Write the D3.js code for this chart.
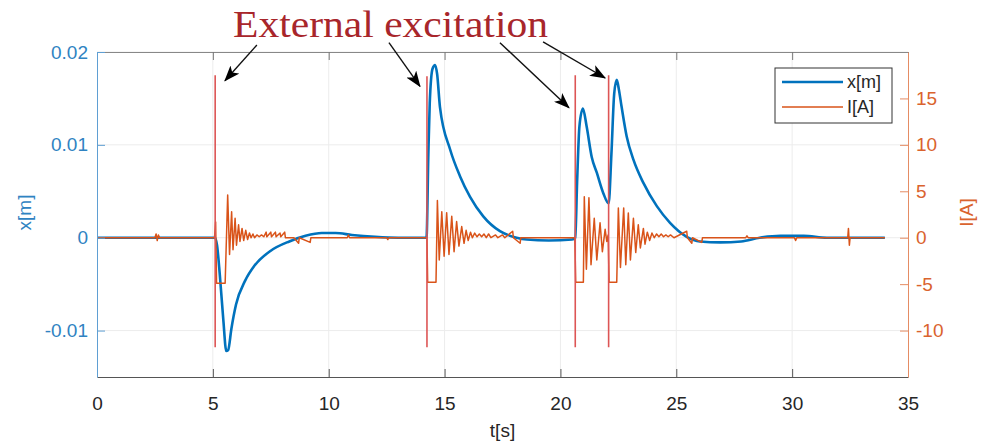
<!DOCTYPE html>
<html>
<head>
<meta charset="utf-8">
<script src="https://cdn.jsdelivr.net/npm/d3@7"></script>
<style>
  html, body { margin: 0; padding: 0; background: #ffffff; }
  svg { display: block; }
  text { font-family: "Liberation Sans", Arial, Helvetica, sans-serif; }
</style>
</head>
<body>
<svg id="chart" width="982" height="444"></svg>
<script>
// ---------------- data ----------------
const xTicks = [0, 5, 10, 15, 20, 25, 30, 35];
const leftTicks = [-0.01, 0, 0.01, 0.02];
const rightTicks = [-10, -5, 0, 5, 10, 15];

// displacement x[m]
const dispTime = [0, 5.1, 5.18, 5.3, 5.45, 5.58, 5.66, 5.8, 6.0, 6.4, 6.8, 7.5, 8.3, 9.0, 9.7, 10.3, 11.0, 12.0, 13.0,
  14.22, 14.3, 14.36, 14.48, 14.59, 14.68, 14.8, 15.24, 15.67, 16.1, 16.67, 17.39, 18.11, 18.55, 19.5, 20.5,
  20.64, 20.72, 20.82, 20.97, 21.13, 21.35, 21.57, 21.85, 22.08,
  22.2, 22.32, 22.43, 22.52, 22.64, 22.86, 23.15, 23.58, 24.16, 24.73, 25.45, 26.02, 26.9, 27.8, 28.6, 29.5, 30.5, 31.5, 34.0];
const dispValues = [0, 0, -0.0008, -0.004, -0.0088, -0.0122, -0.0121, -0.0098, -0.0072, -0.0046, -0.0030, -0.0014, -0.0004, 0.0002, 0.0005, 0.0005, 0.0003, 0.0001, 0,
  0, 0.009, 0.0145, 0.0182, 0.0186, 0.0176, 0.0141, 0.0095, 0.0066, 0.0044, 0.0023, 0.0007, 0, -0.0002, -0.0003, -0.0002,
  0, 0.006, 0.012, 0.0139, 0.012, 0.0087, 0.007, 0.0048, 0.0037,
  0.009, 0.0155, 0.017, 0.016, 0.0141, 0.0109, 0.0084, 0.0059, 0.0034, 0.0016, 0.0001, -0.0004, -0.0005, -0.0004, 0, 0.0002, 0.0002, 0, 0];

// current I[A]
const currTime = [0, 2.5, 2.55, 2.6, 2.65, 2.7,
  5.07, 5.12, 5.16, 5.53, 5.64, 5.72, 5.81, 5.87, 5.96, 6.02, 6.11, 6.17, 6.26, 6.33, 6.42, 6.5, 6.58, 6.65, 6.73, 6.8, 6.9, 7.0, 7.1, 7.2,
  7.3, 7.33, 7.5, 7.53, 7.7, 7.73, 7.9, 7.93, 8.1, 8.13, 8.5, 8.7, 8.73, 9.2, 9.23, 10.8, 10.85, 10.9, 12.5, 12.55, 12.6,
  14.24, 14.27, 14.63, 14.69, 14.77, 14.88, 14.98, 15.09, 15.19, 15.31, 15.41, 15.52, 15.62, 15.74, 15.84, 15.93, 16.02, 16.12, 16.2,
  16.3, 16.4, 16.5, 16.6, 16.7, 16.8, 16.9, 17.0, 17.2, 17.3, 17.5, 17.6, 17.94, 17.97, 18.26, 18.29,
  20.62, 20.66, 20.99, 21.03, 21.12, 21.23, 21.32, 21.46, 21.57, 21.71, 21.81, 21.93, 22.0, 22.06,
  22.1, 22.43, 22.5, 22.59, 22.73, 22.82, 22.93, 23.02, 23.15, 23.25, 23.36, 23.45, 23.58, 23.65, 23.75, 23.85, 23.95, 24.05,
  24.15, 24.25, 24.35, 24.45, 24.55, 24.65, 24.75, 24.9, 25.45, 25.48, 25.67, 25.7, 26.1, 26.13,
  28.0, 28.05, 28.1, 30.1, 30.15, 30.2, 32.4, 32.43, 32.47, 32.5, 34.0];
const currValues = [0, 0, 0.4, -0.3, 0.3, 0,
  0, 1.7, -4.9, -4.9, 4.6, -1.8, 2.8, -1.3, 2.1, -0.8, 1.4, -0.4, 1.0, -0.3, 0.8, -0.2, 0.5, 0, 0.4, 0, 0.3, 0.1, 0.3, 0.1,
  0.6, 0.1, 0.6, 0.1, 0.6, 0.1, 0.5, 0.1, 0.6, 0, 0, -0.6, 0, -0.5, 0, 0, 0.3, 0, 0, -0.2, 0,
  0, -4.8, -4.8, 4.0, -2.4, 2.8, -2.0, 2.7, -1.8, 2.3, -1.5, 1.75, -0.9, 1.2, -0.6, 0.8, -0.3, 0.6, 0,
  0.5, 0.1, 0.4, 0.1, 0.4, 0, 0.4, 0, 0.3, 0, 0.3, 0, 0.7, 0, -0.6, 0,
  0, -4.8, -4.8, 4.4, -3.4, 4.3, -2.9, 2.1, -2.4, 1.6, -1.5, 0.9, -0.4, 0.3,
  -4.8, -4.8, 3.2, -3.2, 3.2, -2.9, 2.65, -2.4, 2.1, -1.6, 1.4, -1.1, 1.0, -0.7, 0.6, -0.3, 0.5, 0,
  0.4, 0.1, 0.4, 0.1, 0.3, 0.1, 0.3, 0, 0.7, 0, -0.6, 0, -0.5, 0,
  0, 0.2, 0, 0, -0.3, 0, 0, 1.0, -0.8, 0, 0];

// excitation spikes in the current
const spikeTime = [5.1, 14.24, 20.64, 22.08];
const spikeHigh = [17.5, 17.4, 17.5, 17.5];
const spikeLow = [-11.8, -11.8, -11.8, -11.8];

// annotation arrows (time, current units)
const arrowFromT = [6.9, 12.6, 17.39, 19.25];
const arrowFromI = [20.75, 21.0, 21.0, 21.1];
const arrowToT = [5.52, 13.94, 20.37, 21.93];
const arrowToI = [16.9, 16.3, 14.0, 17.2];

const seriesNames = ["x[m]", "I[A]"];
const annotationText = "External excitation";

// ---------------- chart ----------------
const blue = "#0072BD", orange = "#D95319";
const svg = d3.select("#chart");
const L = 97, R = 908, T = 52, B = 377;

const x = d3.scaleLinear().domain([0, 35]).range([L, R]);
const yL = d3.scaleLinear().domain([-0.015, 0.02]).range([B, T]);
const yR = d3.scaleLinear().domain([-15, 20]).range([B, T]);

svg.append("defs").append("clipPath").attr("id", "clip")
  .append("rect").attr("x", L).attr("y", T).attr("width", R - L).attr("height", B - T);

// grid
const grid = svg.append("g");
grid.selectAll("line.vx").data(xTicks.slice(1, -1)).join("line")
  .attr("x1", d => x(d)).attr("x2", d => x(d)).attr("y1", T).attr("y2", B)
  .attr("stroke", "#ececec").attr("stroke-width", 1);
grid.selectAll("line.hy").data(leftTicks).join("line")
  .attr("x1", L).attr("x2", R).attr("y1", d => yL(d)).attr("y2", d => yL(d))
  .attr("stroke", "#ececec").attr("stroke-width", 1);

const plot = svg.append("g").attr("clip-path", "url(#clip)");

const dispData = dispTime.map((t, i) => [t, dispValues[i]]);
const currData = currTime.map((t, i) => [t, currValues[i]]);

plot.append("path").datum(dispData)
  .attr("fill", "none").attr("stroke", blue).attr("stroke-width", 2.6)
  .attr("stroke-linejoin", "round")
  .attr("d", d3.line().x(d => x(d[0])).y(d => yL(d[1])).curve(d3.curveMonotoneX));

plot.append("path").datum(currData)
  .attr("fill", "none").attr("stroke", orange).attr("stroke-width", 1.5)
  .attr("stroke-linejoin", "round")
  .attr("d", d3.line().x(d => x(d[0])).y(d => yR(d[1])));

plot.selectAll("line.spike").data(spikeTime).join("line")
  .attr("x1", d => x(d)).attr("x2", d => x(d))
  .attr("y1", (d, i) => yR(spikeHigh[i])).attr("y2", (d, i) => yR(spikeLow[i]))
  .attr("stroke", "#dd5555").attr("stroke-width", 1.6);

// axes
const fmt = d => String(d);
const axB = svg.append("g").attr("transform", `translate(0,${B})`)
  .call(d3.axisBottom(x).tickValues(xTicks).tickSize(-8).tickSizeOuter(0).tickPadding(20).tickFormat(fmt));
axB.select(".domain").attr("stroke", "#555");
axB.selectAll(".tick line").attr("stroke", "#555");
axB.selectAll("text").attr("fill", "#262626").style("font-size", "19px");

const axT = svg.append("g").attr("transform", `translate(0,${T})`)
  .call(d3.axisTop(x).tickValues(xTicks).tickSize(-8).tickSizeOuter(0).tickFormat(""));
axT.select(".domain").attr("stroke", "#888");
axT.selectAll(".tick line").attr("stroke", "#777");

const axL = svg.append("g").attr("transform", `translate(${L},0)`)
  .call(d3.axisLeft(yL).tickValues(leftTicks).tickSize(-8).tickSizeOuter(0).tickPadding(9).tickFormat(fmt));
axL.select(".domain").attr("stroke", "#5f9fd3");
axL.selectAll(".tick line").attr("stroke", "#5f9fd3");
axL.selectAll("text").attr("fill", "#2f83c2").style("font-size", "19px");

const axR = svg.append("g").attr("transform", `translate(${R},0)`)
  .call(d3.axisRight(yR).tickValues(rightTicks).tickSize(-8).tickSizeOuter(0).tickPadding(8).tickFormat(fmt));
axR.select(".domain").attr("stroke", "#e58c64");
axR.selectAll(".tick line").attr("stroke", "#e58c64");
axR.selectAll("text").attr("fill", "#da632e").style("font-size", "19px");

// axis titles
svg.append("text").attr("x", (L + R) / 2).attr("y", 437).attr("text-anchor", "middle")
  .attr("fill", "#262626").style("font-size", "19px").text("t[s]");
svg.append("text").attr("transform", `translate(24,${(T + B) / 2 - 2}) rotate(-90)`)
  .attr("text-anchor", "middle").attr("dominant-baseline", "central")
  .attr("fill", "#2f83c2").style("font-size", "19px").text("x[m]");
svg.append("text").attr("transform", `translate(966,${(T + B) / 2 - 2}) rotate(-90)`)
  .attr("text-anchor", "middle").attr("dominant-baseline", "central")
  .attr("fill", "#da632e").style("font-size", "19px").text("I[A]");

// legend
const lg = svg.append("g");
lg.append("rect").attr("x", 775).attr("y", 68).attr("width", 117).attr("height", 55)
  .attr("fill", "#fff").attr("stroke", "#333").attr("stroke-width", 1);
const legColors = [blue, orange], legWidths = [2.6, 1.5];
seriesNames.forEach((n, i) => {
  const yy = 82 + i * 25;
  lg.append("line").attr("x1", 782).attr("x2", 843).attr("y1", yy).attr("y2", yy)
    .attr("stroke", legColors[i]).attr("stroke-width", legWidths[i]);
  lg.append("text").attr("x", 847).attr("y", yy).attr("dominant-baseline", "central")
    .attr("fill", "#262626").style("font-size", "18px").text(n);
});

// annotation
svg.append("text").attr("x", 233).attr("y", 37)
  .attr("textLength", 315).attr("lengthAdjust", "spacingAndGlyphs")
  .style("font-family", "'Liberation Serif', 'Times New Roman', serif")
  .style("font-size", "38px").attr("fill", "#a8262b").text(annotationText);

svg.select("defs").append("marker").attr("id", "ah")
  .attr("viewBox", "0 0 16 12").attr("refX", 15).attr("refY", 6)
  .attr("markerWidth", 16).attr("markerHeight", 12)
  .attr("markerUnits", "userSpaceOnUse").attr("orient", "auto")
  .append("path").attr("d", "M0,0 L16,6 L0,12 L4,6 Z").attr("fill", "#000");

svg.append("g").selectAll("line").data(arrowFromT).join("line")
  .attr("x1", d => x(d)).attr("y1", (d, i) => yR(arrowFromI[i]))
  .attr("x2", (d, i) => x(arrowToT[i])).attr("y2", (d, i) => yR(arrowToI[i]))
  .attr("stroke", "#111").attr("stroke-width", 1.4).attr("marker-end", "url(#ah)");
</script>
</body>
</html>
